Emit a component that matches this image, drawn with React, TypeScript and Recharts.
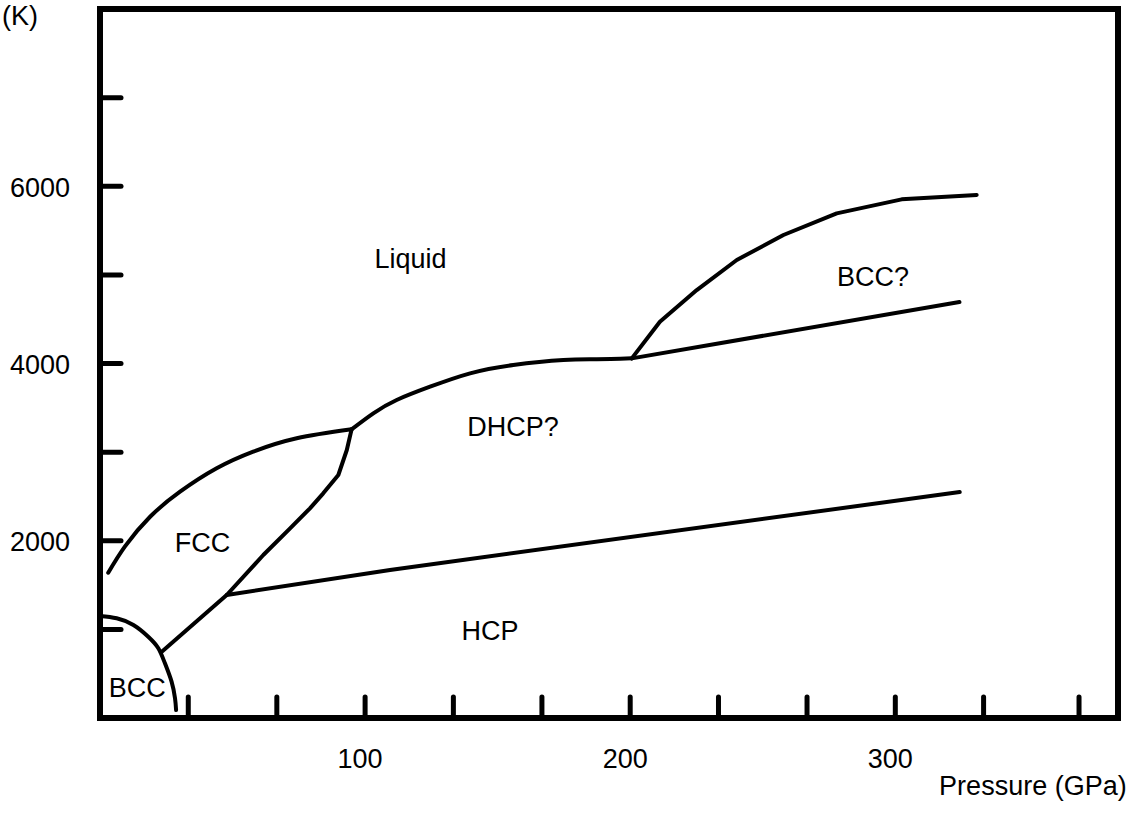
import React from 'react';
import { LineChart, Line, XAxis, YAxis, ReferenceArea, ReferenceDot } from 'recharts';

// ---- axes ----
const xMax = 384; // GPa at right edge of frame
const yMax = 8000; // K at top edge of frame
const xTicks = [33.3, 66.7, 100, 133.3, 166.7, 200, 233.3, 266.7, 300, 333.3, 369.3];
const xLabelValues = [100, 200, 300];
const yTicks = [1000, 2000, 3000, 4000, 5000, 6000, 7000];
const yLabelValues = [2000, 4000, 6000];

// ---- phase boundaries (p: GPa, t: K) ----
const bccBoundary = [
  { p: 0, t: 1151 }, { p: 6.3, t: 1125 }, { p: 12.6, t: 1049 }, { p: 18.2, t: 917 },
  { p: 22.0, t: 787 }, { p: 24.5, t: 617 }, { p: 27.0, t: 410 }, { p: 28.3, t: 222 },
  { p: 28.7, t: 90 },
];
const fccHcpBoundary = [
  { p: 23.3, t: 748 }, { p: 47.8, t: 1388 }, { p: 61.6, t: 1839 }, { p: 71.7, t: 2140 },
  { p: 79.2, t: 2366 }, { p: 84.2, t: 2535 }, { p: 89.9, t: 2742 }, { p: 93.1, t: 3024 },
  { p: 94.9, t: 3257 },
];
const fccMelting = [
  { p: 3.1, t: 1639 }, { p: 9.5, t: 1940 }, { p: 18.9, t: 2271 },
  { p: 30.2, t: 2553 }, { p: 44.0, t: 2817 }, { p: 57.8, t: 3005 }, { p: 74.2, t: 3156 },
  { p: 94.9, t: 3257 },
];
const dhcpMelting = [
  { p: 94.9, t: 3257 }, { p: 103.1, t: 3438 }, { p: 111.9, t: 3588 }, { p: 124.5, t: 3738 },
  { p: 139.6, t: 3889 }, { p: 155.9, t: 3983 }, { p: 174.8, t: 4039 }, { p: 187.4, t: 4047 },
  { p: 200.6, t: 4058 },
];
const bccDhcpBoundary = [
  { p: 200.6, t: 4058 }, { p: 324.2, t: 4694 },
];
const bccMelting = [
  { p: 200.6, t: 4058 }, { p: 211.2, t: 4471 }, { p: 225.1, t: 4829 }, { p: 240.2, t: 5168 },
  { p: 257.8, t: 5450 }, { p: 277.9, t: 5694 }, { p: 302.4, t: 5852 }, { p: 330.7, t: 5901 },
];
const hcpDhcpBoundary = [
  { p: 47.8, t: 1388 }, { p: 109.4, t: 1670 }, { p: 324.3, t: 2550 },
];

const curves = [
  { id: 'bcc', points: bccBoundary, kind: 'natural' },
  { id: 'fcc-hcp', points: fccHcpBoundary, kind: 'linear' },
  { id: 'fcc-melt', points: fccMelting, kind: 'natural' },
  { id: 'dhcp-melt', points: dhcpMelting, kind: 'natural' },
  { id: 'bcc-dhcp', points: bccDhcpBoundary, kind: 'linear' },
  { id: 'bcc-melt', points: bccMelting, kind: 'linear' },
  { id: 'hcp-dhcp', points: hcpDhcpBoundary, kind: 'linear' },
];

// ---- text labels (anchored in data space) ----
const regionLabels = [
  { text: 'Liquid', p: 117.1, t: 5077, anchor: 'middle' },
  { text: 'BCC?', p: 291.6, t: 4874, anchor: 'middle' },
  { text: 'DHCP?', p: 155.8, t: 3182, anchor: 'middle' },
  { text: 'FCC', p: 38.7, t: 1876, anchor: 'middle' },
  { text: 'HCP', p: 147.1, t: 880, anchor: 'middle' },
  { text: 'BCC', p: 14.1, t: 240, anchor: 'middle' },
  { text: 'Pressure (GPa)', p: 351.9, t: -869, anchor: 'middle' },
  { text: '(K)', p: -37.0, t: 7820, anchor: 'start' },
];

const FONT = '"Liberation Sans", Arial, Helvetica, sans-serif';
const FONT_SIZE = 27;
const INK = '#000';

const XTick = (props: any) => {
  const v = props.payload?.value;
  if (!xLabelValues.includes(v)) return <g />;
  return (
    <text x={props.x - 5} y={props.y + 71} textAnchor="middle" fontFamily={FONT} fontSize={FONT_SIZE} fill={INK}>
      {String(v)}
    </text>
  );
};

const YTick = (props: any) => {
  const v = props.payload?.value;
  if (!yLabelValues.includes(v)) return <g />;
  return (
    <text x={props.x - 51} y={props.y + 10.5} textAnchor="end" fontFamily={FONT} fontSize={FONT_SIZE} fill={INK}>
      {String(v)}
    </text>
  );
};

export default function App() {
  return (
    <div style={{ position: 'absolute', left: 0, top: 0, background: '#fff' }}>
      <LineChart
        width={1141}
        height={826}
        margin={{ top: 9, right: 23, bottom: 108, left: 100 }}
        style={{ fontFamily: FONT }}
      >
        <XAxis
          type="number"
          dataKey="p"
          domain={[0, xMax]}
          ticks={xTicks}
          interval={0}
          mirror
          axisLine={false}
          tickSize={21}
          tickMargin={0}
          tickLine={{ stroke: INK, strokeWidth: 5, strokeLinecap: 'round' }}
          tick={XTick}
        />
        <YAxis
          type="number"
          dataKey="t"
          domain={[0, yMax]}
          ticks={yTicks}
          interval={0}
          mirror
          axisLine={false}
          tickSize={21}
          tickMargin={0}
          tickLine={{ stroke: INK, strokeWidth: 5, strokeLinecap: 'round' }}
          tick={YTick}
        />
        {curves.map((c) => (
          <Line
            key={c.id}
            data={c.points}
            dataKey="t"
            type={c.kind as any}
            stroke={INK}
            strokeWidth={4}
            strokeLinecap="round"
            strokeLinejoin="round"
            dot={false}
            activeDot={false}
            isAnimationActive={false}
            legendType="none"
          />
        ))}
        <ReferenceArea
          x1={0}
          x2={xMax}
          y1={0}
          y2={yMax}
          fill="none"
          fillOpacity={0}
          stroke={INK}
          strokeWidth={6}
          ifOverflow="visible"
        />
        {regionLabels.map((l) => (
          <ReferenceDot
            key={l.text}
            x={l.p}
            y={l.t}
            r={0}
            ifOverflow="visible"
            shape={(props: any) => (
              <text
                x={props.cx}
                y={props.cy}
                textAnchor={l.anchor as any}
                fontFamily={FONT}
                fontSize={FONT_SIZE}
                fill={INK}
              >
                {l.text}
              </text>
            )}
          />
        ))}
      </LineChart>
    </div>
  );
}
